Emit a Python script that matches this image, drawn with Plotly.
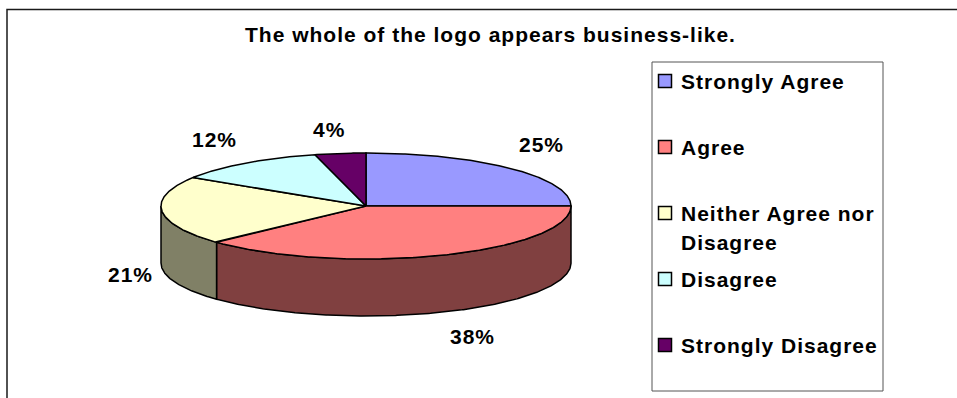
import textwrap

import numpy as np
import plotly.graph_objects as go

# ---- data -------------------------------------------------------------
title = "The whole of the logo appears business-like."
categories = ["Strongly Agree", "Agree", "Neither Agree nor Disagree",
              "Disagree", "Strongly Disagree"]
percents = [25, 38, 21, 12, 4]
top_colors = ["#9999FF", "#FF8080", "#FFFFCC", "#CCFFFF", "#660066"]
side_colors = ["#4D4D80", "#804040", "#808066", "#668080", "#330033"]

# ---- canvas (pixel-space axes) ----------------------------------------
W, H = 957, 398
FONT = "Liberation Sans, Arial, Helvetica, sans-serif"
FSIZE = 21
SPACING = 1  # px letter spacing of the chart text


def spaced(s):
    return f'<span style="letter-spacing:{SPACING}px">{s}</span>'


# 3-D pie geometry: top ellipse centre, radii and wall height
cx, cy = 366, 206
rx, ry = 205, 53
depth = 57


def ellipse_pts(a0, a1, dz=0.0):
    """Points on the rim from angle a0 to a1 (degrees, clockwise from 12 o'clock)."""
    n = max(2, int(abs(a1 - a0) * 2) + 1)
    t = np.radians(np.linspace(a0, a1, n))
    return cx + rx * np.sin(t), cy - ry * np.cos(t) + dz


bounds = np.concatenate([[0], np.cumsum(percents)]) * 360.0 / sum(percents)

fig = go.Figure()

# side walls (only the front half, 90..270 degrees, is visible)
for i, (a0, a1) in enumerate(zip(bounds[:-1], bounds[1:])):
    s0, s1 = max(a0, 90.0), min(a1, 270.0)
    if s1 <= s0:
        continue
    xt, yt = ellipse_pts(s0, s1)
    xb, yb = ellipse_pts(s1, s0, depth)
    fig.add_trace(go.Scatter(
        x=np.concatenate([xt, xb, xt[:1]]), y=np.concatenate([yt, yb, yt[:1]]),
        mode="lines", fill="toself", fillcolor=side_colors[i],
        line=dict(color="black", width=1.5), hoverinfo="skip", showlegend=False))

# top faces
for i, (a0, a1) in enumerate(zip(bounds[:-1], bounds[1:])):
    xa, ya = ellipse_pts(a0, a1)
    fig.add_trace(go.Scatter(
        x=np.concatenate([[cx], xa, [cx]]), y=np.concatenate([[cy], ya, [cy]]),
        mode="lines", fill="toself", fillcolor=top_colors[i],
        line=dict(color="black", width=1.5), name=categories[i],
        hoverinfo="skip", showlegend=False))

# percentage labels just outside the rim
annotations = []
for i, (a0, a1) in enumerate(zip(bounds[:-1], bounds[1:])):
    mid = np.radians((a0 + a1) / 2)
    sx, sy = np.sin(mid), -np.cos(mid)
    ex, ey = cx + rx * sx, cy + ry * sy + (depth if sy > 0 else 0)
    lx = ex + 31 * np.clip(sx / 0.35, -1, 1)
    ly = ey + 24 * np.clip(sy / 0.35, -1, 1)
    annotations.append(dict(
        x=lx, y=ly, xref="x", yref="y", text=spaced(f"{percents[i]}%"),
        showarrow=False, xanchor="center", yanchor="middle",
        font=dict(family=FONT, size=FSIZE, color="black", weight="bold")))

# title
annotations.append(dict(
    x=490, y=34, xref="x", yref="y", text=spaced(title), showarrow=False,
    xanchor="center", yanchor="middle",
    font=dict(family=FONT, size=FSIZE, color="black", weight="bold")))

# legend: swatches and wrapped labels
leg_x, leg_y0, leg_step, line_h = 665, 81, 66, 29
leg_y = [leg_y0 + leg_step * i for i in range(len(categories))]
fig.add_trace(go.Scatter(
    x=[leg_x] * len(categories), y=leg_y, mode="markers",
    marker=dict(symbol="square", size=13, color=top_colors,
                line=dict(color="black", width=1.5)),
    hoverinfo="skip", showlegend=False))
for i, lab in enumerate(categories):
    for k, line in enumerate(textwrap.wrap(lab, 18)):
        annotations.append(dict(
            x=leg_x + 14, y=leg_y[i] + k * line_h, xref="x", yref="y",
            text=spaced(line), showarrow=False, xanchor="left",
            yanchor="middle", align="left",
            font=dict(family=FONT, size=FSIZE, color="black", weight="bold")))

shapes = [
    # chart area frame
    dict(type="rect", xref="x", yref="y", x0=7, y0=9.5, x1=W + 5, y1=H + 5,
         line=dict(color="#1a1a1a", width=1.5), fillcolor="rgba(0,0,0,0)", layer="below"),
    # legend frame
    dict(type="rect", xref="x", yref="y", x0=652, y0=62, x1=883, y1=391,
         line=dict(color="#555555", width=1), fillcolor="rgba(0,0,0,0)", layer="below"),
]

fig.update_layout(
    width=W, height=H, margin=dict(l=0, r=0, t=0, b=0),
    paper_bgcolor="white", plot_bgcolor="white",
    xaxis=dict(range=[0, W], visible=False, fixedrange=True),
    yaxis=dict(range=[H, 0], visible=False, fixedrange=True),
    annotations=annotations, shapes=shapes, showlegend=False,
)

fig.write_html("out.html")
